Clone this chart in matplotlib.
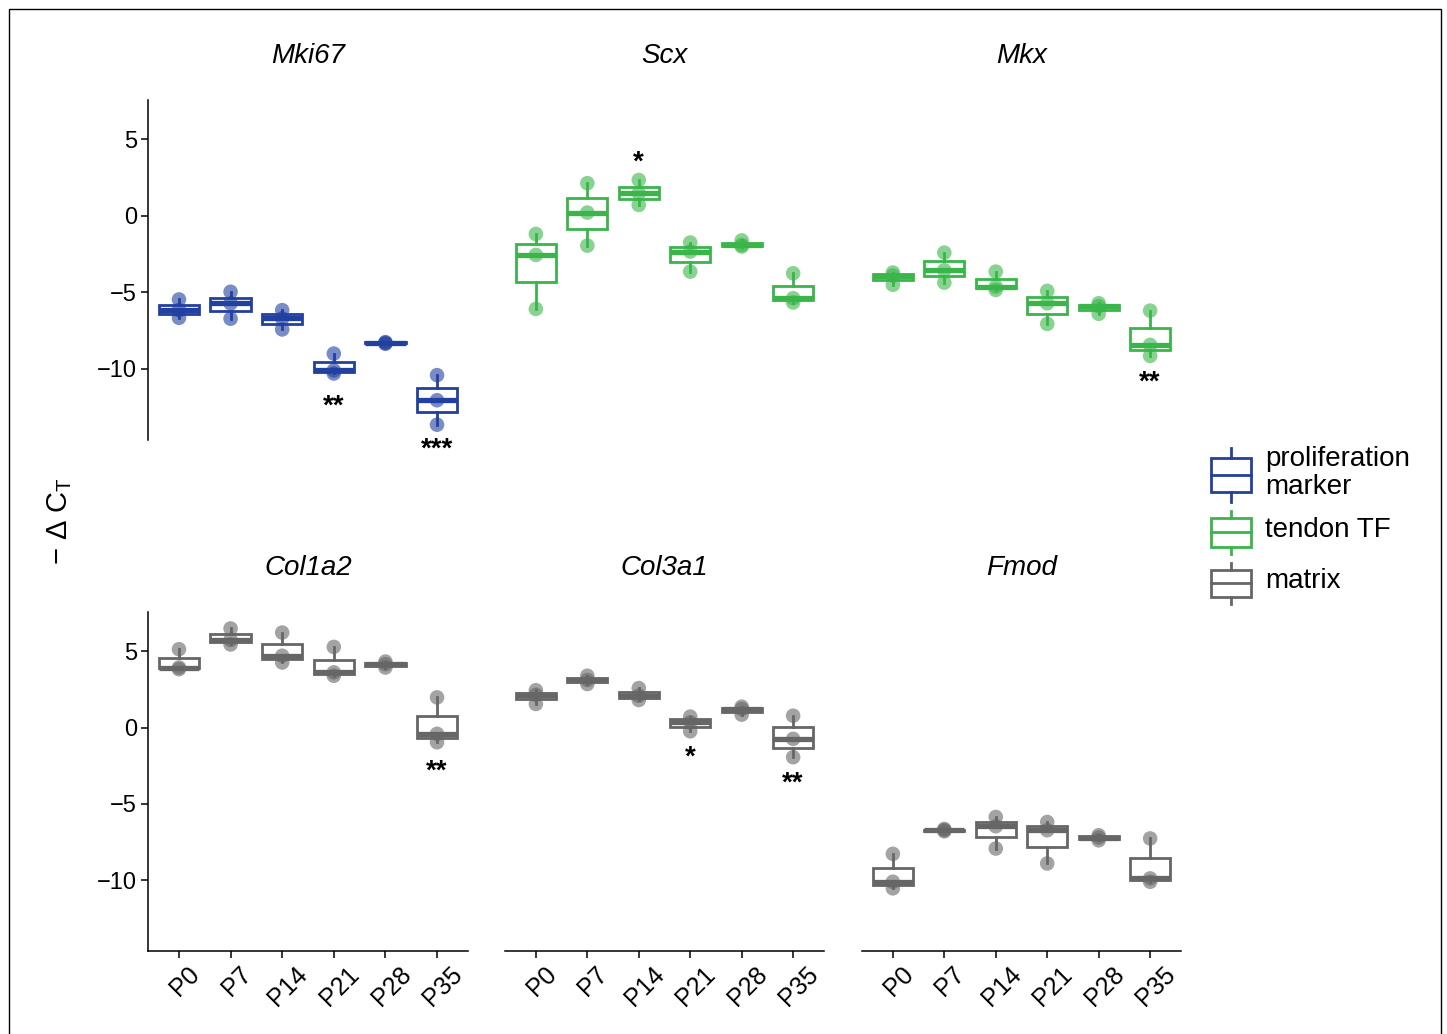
import numpy as np
import matplotlib
matplotlib.use("Agg")
import matplotlib.pyplot as plt
from matplotlib.patches import Rectangle
from matplotlib.lines import Line2D
import matplotlib.transforms as mtransforms

plt.rcParams['font.family'] = ['Liberation Sans', 'DejaVu Sans']
plt.rcParams['mathtext.fontset'] = 'custom'
plt.rcParams['mathtext.rm'] = 'Liberation Sans'
plt.rcParams['mathtext.it'] = 'Liberation Sans:italic'

# ---------------- data ----------------
timepoints = ["P0", "P7", "P14", "P21", "P28", "P35"]
genes = ["Mki67", "Scx", "Mkx", "Col1a2", "Col3a1", "Fmod"]
gene_group = ["proliferation marker", "tendon TF", "tendon TF", "matrix", "matrix", "matrix"]

mki67 = [[-5.46, -6.16, -6.66], [-4.96, -5.72, -6.72], [-6.16, -6.70, -7.42],
         [-9.00, -10.10, -10.30], [-8.25, -8.30, -8.36], [-10.41, -12.05, -13.65]]
scx = [[-1.18, -2.55, -6.08], [2.14, 0.22, -1.94], [2.35, 1.48, 0.72],
       [-1.74, -2.33, -3.64], [-1.60, -1.90, -2.00], [-3.75, -5.38, -5.66]]
mkx = [[-3.70, -3.90, -4.50], [-2.40, -3.55, -4.36], [-3.64, -4.62, -4.84],
       [-4.90, -5.71, -7.06], [-5.71, -5.90, -6.40], [-6.19, -8.43, -9.15]]
col1a2 = [[5.14, 3.94, 3.83], [6.50, 5.75, 5.45], [6.23, 4.71, 4.27],
          [5.29, 3.62, 3.40], [4.33, 4.16, 3.94], [1.98, -0.41, -0.96]]
col3a1 = [[2.45, 2.15, 1.55], [3.40, 3.12, 2.86], [2.59, 2.09, 1.81],
          [0.72, 0.35, -0.24], [1.37, 1.22, 0.85], [0.78, -0.74, -1.94]]
fmod = [[-8.28, -10.11, -10.54], [-6.65, -6.72, -6.80], [-5.86, -6.47, -7.93],
        [-6.19, -6.73, -8.91], [-7.06, -7.21, -7.39], [-7.27, -9.89, -10.11]]
gene_values = [mki67, scx, mkx, col1a2, col3a1, fmod]

# significance labels: (gene index, timepoint index, label, y position)
sig_gene = [0, 0, 1, 2, 3, 4, 4]
sig_time = [3, 5, 2, 5, 5, 3, 5]
sig_text = ["**", "***", "*", "**", "**", "*", "**"]
sig_y = [-12.16, -14.97, 3.80, -10.60, -2.55, -1.63, -3.33]

legend_labels = ["proliferation\nmarker", "tendon TF", "matrix"]
group_colors = {"proliferation marker": "#21409F", "tendon TF": "#39B54A", "matrix": "#666666"}

yticks = [5, 0, -5, -10]
ylim = (-14.65, 7.58)

# ---------------- figure ----------------
W, H = 1447, 1034
fig = plt.figure(figsize=(W / 100, H / 100), dpi=100)

col_left = [148, 505, 862]
col_width = [320, 319, 319]
row_top = [100, 612]
row_height = [340, 339]

star_shift = mtransforms.ScaledTranslation(0, -5 / 100, fig.dpi_scale_trans)

for gi, gene in enumerate(genes):
    r, c = divmod(gi, 3)
    ax = fig.add_axes([col_left[c] / W, 1 - (row_top[r] + row_height[r]) / H,
                       col_width[c] / W, row_height[r] / H])
    color = group_colors[gene_group[gi]]
    data = gene_values[gi]
    pos = np.arange(len(timepoints))
    ax.boxplot(data, positions=pos, widths=0.78, whis=(0, 100), showcaps=False,
               showfliers=False, patch_artist=True,
               boxprops=dict(facecolor="white", edgecolor=color, linewidth=2.0),
               whiskerprops=dict(color=color, linewidth=2.0),
               medianprops=dict(color=color, linewidth=3.8, solid_capstyle='butt'),
               zorder=2)
    for i, vals in enumerate(data):
        ax.scatter([pos[i]] * len(vals), vals, s=110, color=color, alpha=0.6,
                   edgecolors='none', zorder=3)
    ax.set_xlim(-0.6, len(timepoints) - 0.4)
    ax.set_ylim(*ylim)
    for s in ax.spines.values():
        s.set_visible(False)
        s.set_linewidth(1.1)
    ax.tick_params(axis='both', length=5, width=1.1, labelsize=17, pad=3)
    if c == 0:
        ax.spines['left'].set_visible(True)
        ax.set_yticks(yticks)
        ax.set_yticklabels(["\u2212" + str(-t) if t < 0 else str(t) for t in yticks])
    else:
        ax.set_yticks([])
    if r == 1:
        ax.spines['bottom'].set_visible(True)
        ax.set_xticks(pos)
        ax.set_xticklabels(timepoints, rotation=45, ha='center', va='top', fontsize=18)
        offset = mtransforms.ScaledTranslation(6 / 100, 0, fig.dpi_scale_trans)
        for lab in ax.get_xticklabels():
            lab.set_transform(lab.get_transform() + offset)
    else:
        ax.set_xticks([])
    ax.annotate(gene, xy=(0.5, 1), xycoords='axes fraction', xytext=(0, 31.5),
                textcoords='offset points', ha='center', va='center',
                fontsize=20, style='italic')
    for k in range(len(sig_gene)):
        if sig_gene[k] == gi:
            ax.text(pos[sig_time[k]], sig_y[k], sig_text[k], ha='center',
                    va='center', fontsize=20, fontweight='bold', color='black',
                    clip_on=False, transform=ax.transData + star_shift)

# y label
fig.text(60 / W, 1 - 521 / H, r"$\mathregular{-\ \Delta\ C_T}$", rotation=90,
         ha='center', va='center', fontsize=21)

# legend drawn in its own axes (pixel-based coordinates)
lax = fig.add_axes([1200 / W, 1 - 615 / H, 240 / W, 175 / H])
lax.set_xlim(1200, 1440)
lax.set_ylim(615, 440)
lax.axis('off')
leg_colors = [group_colors["proliferation marker"], group_colors["tendon TF"], group_colors["matrix"]]
leg_centers = [475, 532, 583]
leg_boxh = [34, 29, 27]
leg_whisk = [10, 7, 7]
for lbl, colr, yc, bh, wk in zip(legend_labels, leg_colors, leg_centers, leg_boxh, leg_whisk):
    lax.add_patch(Rectangle((1211, yc - bh / 2), 40, bh, facecolor='white',
                            edgecolor=colr, linewidth=2.0))
    lax.add_line(Line2D([1211, 1251], [yc, yc], color=colr, linewidth=2.0))
    lax.add_line(Line2D([1231, 1231], [yc - bh / 2 - wk, yc - bh / 2], color=colr, linewidth=2.0))
    lax.add_line(Line2D([1231, 1231], [yc + bh / 2, yc + bh / 2 + wk], color=colr, linewidth=2.0))
    lax.text(1265, yc - 2, lbl, ha='left', va='center', fontsize=20, linespacing=1.12)

# outer frame
fig.add_artist(Rectangle((9 / W, -0.01), (1441 - 9) / W, 1 - 9 / H + 0.01,
                         transform=fig.transFigure, fill=False, edgecolor='black',
                         linewidth=1.0))

fig.savefig("out.png", dpi=100)
